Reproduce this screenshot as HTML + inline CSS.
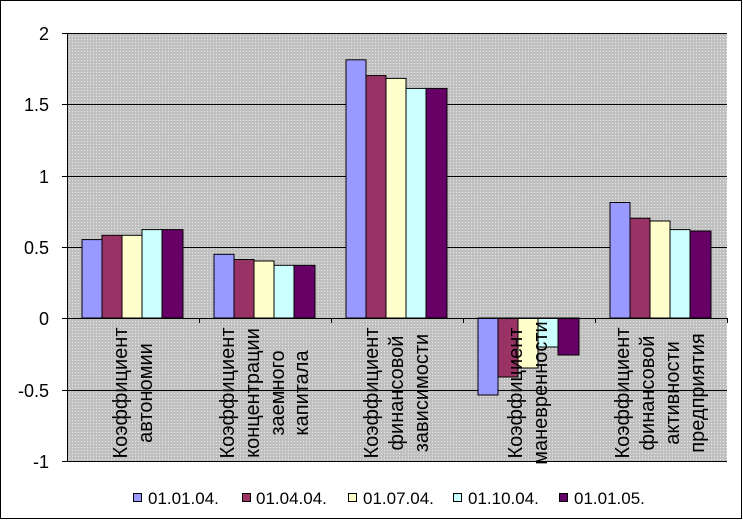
<!DOCTYPE html>
<html><head><meta charset="utf-8"><style>
html,body{margin:0;padding:0;background:#fff}
svg{display:block;font-family:"Liberation Sans",Arial,sans-serif}
</style></head><body>
<svg width="743" height="524" viewBox="0 0 743 524" xmlns="http://www.w3.org/2000/svg">
<defs>
<pattern id="dots" width="3" height="3" patternUnits="userSpaceOnUse">
<rect width="3" height="3" fill="#c0c0c0"/><rect width="1" height="1" fill="#e8e8e8"/>
</pattern>
</defs>
<rect x="0.5" y="0.5" width="741" height="518" fill="#fff" stroke="#000"/>
<rect x="67" y="33" width="660" height="428" fill="url(#dots)"/>
<g stroke="#000" stroke-width="1">
<line x1="67" y1="33.5" x2="727" y2="33.5"/>
<line x1="67" y1="104.5" x2="727" y2="104.5"/>
<line x1="67" y1="176.5" x2="727" y2="176.5"/>
<line x1="67" y1="247.5" x2="727" y2="247.5"/>
<line x1="67" y1="390.5" x2="727" y2="390.5"/>
<line x1="67" y1="461.5" x2="727" y2="461.5"/>
<line x1="67.5" y1="33" x2="67.5" y2="461"/>
<line x1="62" y1="33.5" x2="67" y2="33.5"/><line x1="62" y1="104.5" x2="67" y2="104.5"/>
<line x1="62" y1="176.5" x2="67" y2="176.5"/><line x1="62" y1="247.5" x2="67" y2="247.5"/>
<line x1="62" y1="318.5" x2="67" y2="318.5"/><line x1="62" y1="390.5" x2="67" y2="390.5"/>
<line x1="62" y1="461.5" x2="67" y2="461.5"/>
</g>
<g stroke="#000" stroke-width="1">
<rect x="82" y="239.6" width="20" height="78.4" fill="#9999ff"/>
<rect x="102" y="235.3" width="20" height="82.7" fill="#993366"/>
<rect x="122" y="235.3" width="20" height="82.7" fill="#ffffcc"/>
<rect x="142" y="229.6" width="20" height="88.4" fill="#ccffff"/>
<rect x="162" y="229.6" width="21" height="88.4" fill="#660066"/>
<rect x="214" y="254.3" width="20" height="63.7" fill="#9999ff"/>
<rect x="234" y="259.5" width="20" height="58.5" fill="#993366"/>
<rect x="254" y="261" width="20" height="57" fill="#ffffcc"/>
<rect x="274" y="265.3" width="20" height="52.7" fill="#ccffff"/>
<rect x="294" y="265.3" width="21" height="52.7" fill="#660066"/>
<rect x="346" y="59.8" width="20" height="258.2" fill="#9999ff"/>
<rect x="366" y="75.6" width="20" height="242.4" fill="#993366"/>
<rect x="386" y="78.4" width="20" height="239.6" fill="#ffffcc"/>
<rect x="406" y="88.4" width="20" height="229.6" fill="#ccffff"/>
<rect x="426" y="88.4" width="21" height="229.6" fill="#660066"/>
<rect x="478" y="318" width="20" height="77" fill="#9999ff"/>
<rect x="498" y="318" width="20" height="59" fill="#993366"/>
<rect x="518" y="318" width="20" height="50" fill="#ffffcc"/>
<rect x="538" y="318" width="20" height="29" fill="#ccffff"/>
<rect x="558" y="318" width="21" height="37" fill="#660066"/>
<rect x="610" y="202.5" width="20" height="115.5" fill="#9999ff"/>
<rect x="630" y="218.2" width="20" height="99.8" fill="#993366"/>
<rect x="650" y="221" width="20" height="97" fill="#ffffcc"/>
<rect x="670" y="229.6" width="20" height="88.4" fill="#ccffff"/>
<rect x="690" y="231" width="21" height="87" fill="#660066"/>
</g>
<g stroke="#000">
<line x1="67" y1="318.5" x2="727" y2="318.5"/>
<line x1="199.5" y1="318" x2="199.5" y2="323"/><line x1="331.5" y1="318" x2="331.5" y2="323"/>
<line x1="463.5" y1="318" x2="463.5" y2="323"/><line x1="595.5" y1="318" x2="595.5" y2="323"/>
<line x1="727.5" y1="318" x2="727.5" y2="323"/>
</g>
<g font-size="18" text-anchor="end" fill="#000">
<text x="49" y="40">2</text><text x="49" y="111">1.5</text><text x="49" y="183">1</text>
<text x="49" y="254">0.5</text><text x="49" y="325">0</text><text x="49" y="397">-0.5</text>
<text x="49" y="468">-1</text>
</g>
<g font-size="20" text-anchor="middle" fill="#000">
<text transform="translate(127,393) rotate(-90)">Коэффициент</text>
<text transform="translate(152,393) rotate(-90)">автономии</text>
<text transform="translate(234,393) rotate(-90)">Коэффициент</text>
<text transform="translate(259,393) rotate(-90)">концентрации</text>
<text transform="translate(284,393) rotate(-90)">заемного</text>
<text transform="translate(308,393) rotate(-90)">капитала</text>
<text transform="translate(378,393) rotate(-90)">Коэффициент</text>
<text transform="translate(403,393) rotate(-90)">финансовой</text>
<text transform="translate(428,393) rotate(-90)">зависимости</text>
<text transform="translate(522,393) rotate(-90)">Коэффициент</text>
<text transform="translate(547,393) rotate(-90)">маневренности</text>
<text transform="translate(629,393) rotate(-90)">Коэффициент</text>
<text transform="translate(654,393) rotate(-90)">финансовой</text>
<text transform="translate(679,393) rotate(-90)">активности</text>
<text transform="translate(704,393) rotate(-90)">предприятия</text>
</g>
<g stroke="#000">
<rect x="133.5" y="493.5" width="8" height="8" fill="#9999ff"/>
<rect x="242.5" y="493.5" width="8" height="8" fill="#993366"/>
<rect x="348.5" y="493.5" width="8" height="8" fill="#ffffcc"/>
<rect x="453.5" y="493.5" width="8" height="8" fill="#ccffff"/>
<rect x="559.5" y="493.5" width="8" height="8" fill="#660066"/>
</g>
<g font-size="17" fill="#000">
<text x="148" y="504">01.01.04.</text>
<text x="256" y="504">01.04.04.</text>
<text x="363" y="504">01.07.04.</text>
<text x="468" y="504">01.10.04.</text>
<text x="574" y="504">01.01.05.</text>
</g>
</svg>
</body></html>
